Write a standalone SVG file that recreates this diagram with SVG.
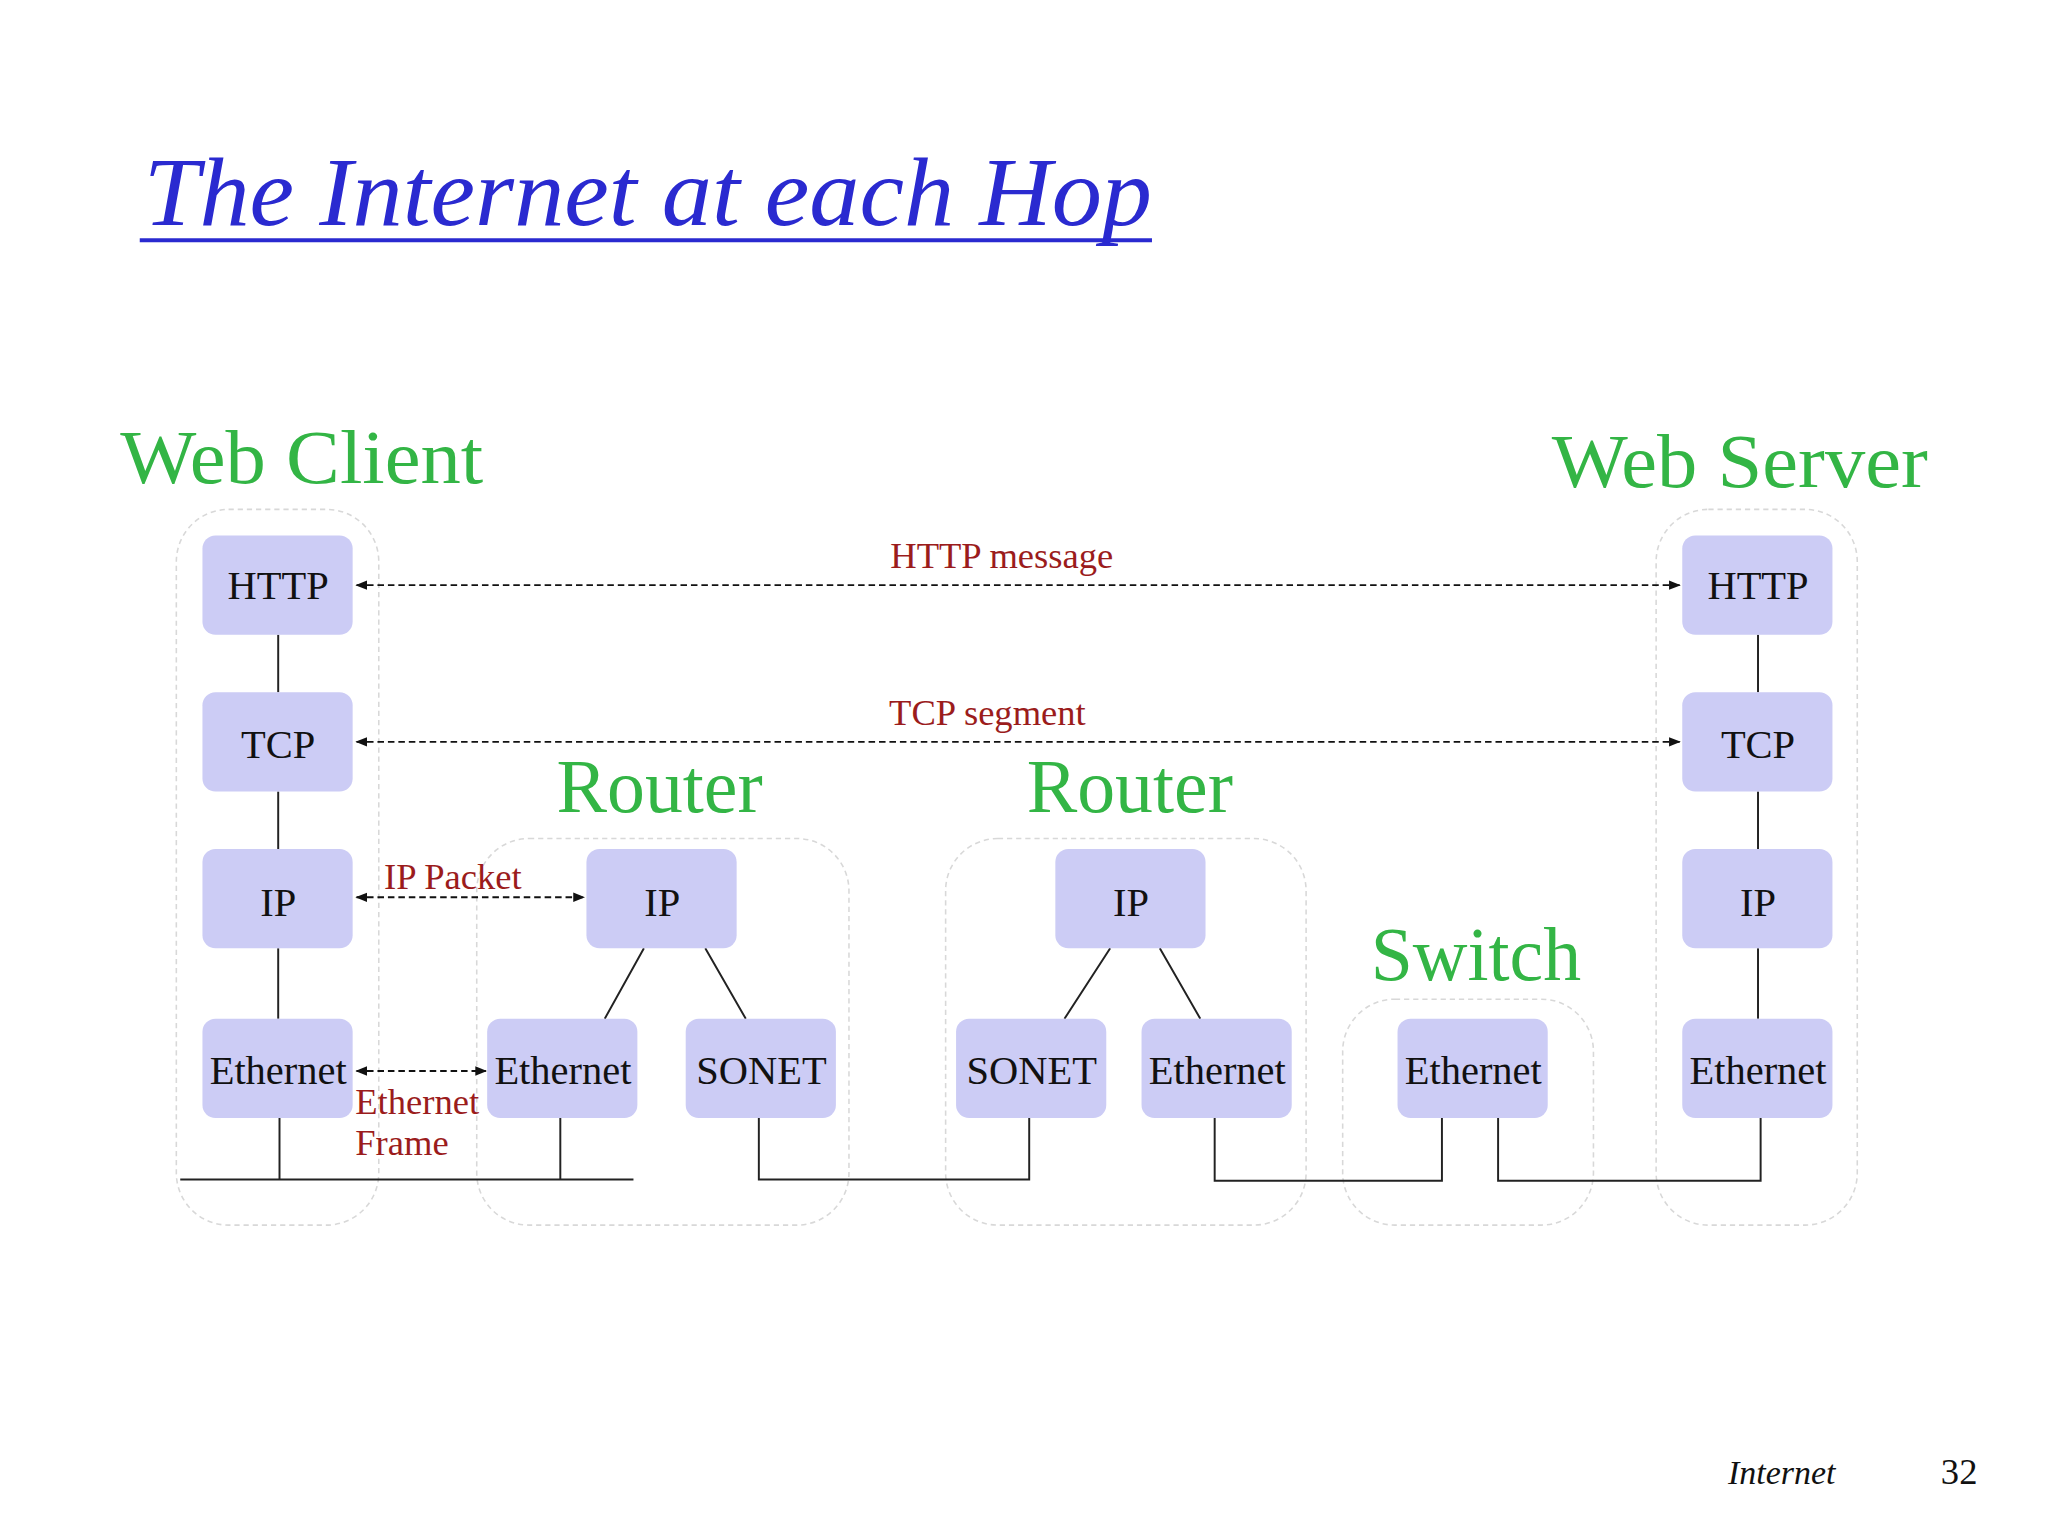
<svg xmlns="http://www.w3.org/2000/svg" width="2048" height="1536" viewBox="0 0 2048 1536">
<defs>
<marker id="ah" viewBox="0 0 10 10" refX="9" refY="5" markerWidth="6" markerHeight="6" orient="auto-start-reverse"><path d="M0,1 L10,5 L0,9 z" fill="#111"/></marker>
<style>
.box{fill:#ccccf5}
.bt{font-family:"Liberation Serif",serif;font-size:31px;fill:#111;text-anchor:middle}
.grp{fill:none;stroke:#d8d8d8;stroke-width:1.2;stroke-dasharray:4 3}
.ln{stroke:#222;stroke-width:1.5;fill:none}
.dash{stroke:#111;stroke-width:1.5;stroke-dasharray:5 3;marker-start:url(#ah);marker-end:url(#ah)}
.lbl{font-family:"Liberation Serif",serif;font-size:28px;fill:#9b1c1c}
.gr{font-family:"Liberation Serif",serif;font-size:58px;fill:#33b545}
</style>
</defs>
<rect width="2048" height="1536" fill="#fff"/>
<g transform="scale(1.3061)">
<text x="110" y="172" font-family="Liberation Serif,serif" font-style="italic" font-size="74" fill="#2a2ad0" textLength="772" lengthAdjust="spacingAndGlyphs">The Internet at each Hop</text>
<line x1="107" y1="184" x2="882" y2="184" stroke="#2a2ad0" stroke-width="3"/>
<g id="groups">
<rect class="grp" x="135" y="390" width="155" height="548" rx="40"/>
<rect class="grp" x="365" y="642" width="285" height="296" rx="40"/>
<rect class="grp" x="724" y="642" width="276" height="296" rx="40"/>
<rect class="grp" x="1028" y="765" width="192" height="173" rx="40"/>
<rect class="grp" x="1268" y="390" width="154" height="548" rx="40"/>
</g>
<g id="headings">
<text class="gr" x="92" y="370" textLength="278" lengthAdjust="spacingAndGlyphs">Web Client</text>
<text class="gr" x="1188" y="373" textLength="288" lengthAdjust="spacingAndGlyphs">Web Server</text>
<text class="gr" x="505" y="622" text-anchor="middle">Router</text>
<text class="gr" x="865" y="622" text-anchor="middle">Router</text>
<text class="gr" x="1130" y="750" text-anchor="middle">Switch</text>
</g>
<g id="connectors">
<path class="ln" d="M213,486V530M213,606V650M213,726V780M1346,486V530M1346,606V650M1346,726V780"/>
<path class="ln" d="M493,726L463,780M540,726L571,780M850,726L815,780M888,726L919,780"/>
<path class="ln" d="M214,856V903M138,903H485M429,856V903M581,856V903H788V856M930,856V904H1104V856M1147,856V904H1348V856"/>
<line class="dash" x1="273" y1="448" x2="1286" y2="448"/>
<line class="dash" x1="273" y1="568" x2="1286" y2="568"/>
<line class="dash" x1="273" y1="687" x2="447" y2="687"/>
<line class="dash" x1="273" y1="820" x2="372" y2="820"/>
<text class="lbl" x="767" y="435" text-anchor="middle">HTTP message</text>
<text class="lbl" x="756" y="555" text-anchor="middle">TCP segment</text>
<text class="lbl" x="294" y="681">IP Packet</text>
<text class="lbl" x="272" y="853">Ethernet</text>
<text class="lbl" x="272" y="884">Frame</text>
</g>
<g id="client">
<rect class="box" x="155" y="410" width="115" height="76" rx="10"/><text class="bt" x="213" y="459">HTTP</text>
<rect class="box" x="155" y="530" width="115" height="76" rx="10"/><text class="bt" x="213" y="580">TCP</text>
<rect class="box" x="155" y="650" width="115" height="76" rx="10"/><text class="bt" x="213" y="701">IP</text>
<rect class="box" x="155" y="780" width="115" height="76" rx="10"/><text class="bt" x="213" y="830">Ethernet</text>
</g>
<g id="router1">
<rect class="box" x="449" y="650" width="115" height="76" rx="10"/><text class="bt" x="507" y="701">IP</text>
<rect class="box" x="373" y="780" width="115" height="76" rx="10"/><text class="bt" x="431" y="830">Ethernet</text>
<rect class="box" x="525" y="780" width="115" height="76" rx="10"/><text class="bt" x="583" y="830">SONET</text>
</g>
<g id="router2">
<rect class="box" x="808" y="650" width="115" height="76" rx="10"/><text class="bt" x="866" y="701">IP</text>
<rect class="box" x="732" y="780" width="115" height="76" rx="10"/><text class="bt" x="790" y="830">SONET</text>
<rect class="box" x="874" y="780" width="115" height="76" rx="10"/><text class="bt" x="932" y="830">Ethernet</text>
</g>
<g id="switch">
<rect class="box" x="1070" y="780" width="115" height="76" rx="10"/><text class="bt" x="1128" y="830">Ethernet</text>
</g>
<g id="server">
<rect class="box" x="1288" y="410" width="115" height="76" rx="10"/><text class="bt" x="1346" y="459">HTTP</text>
<rect class="box" x="1288" y="530" width="115" height="76" rx="10"/><text class="bt" x="1346" y="580">TCP</text>
<rect class="box" x="1288" y="650" width="115" height="76" rx="10"/><text class="bt" x="1346" y="701">IP</text>
<rect class="box" x="1288" y="780" width="115" height="76" rx="10"/><text class="bt" x="1346" y="830">Ethernet</text>
</g>
<text x="1323" y="1136" font-family="Liberation Serif,serif" font-style="italic" font-size="26" fill="#111">Internet</text>
<text x="1486" y="1136" font-family="Liberation Serif,serif" font-size="28" fill="#111">32</text>
</g>
</svg>
